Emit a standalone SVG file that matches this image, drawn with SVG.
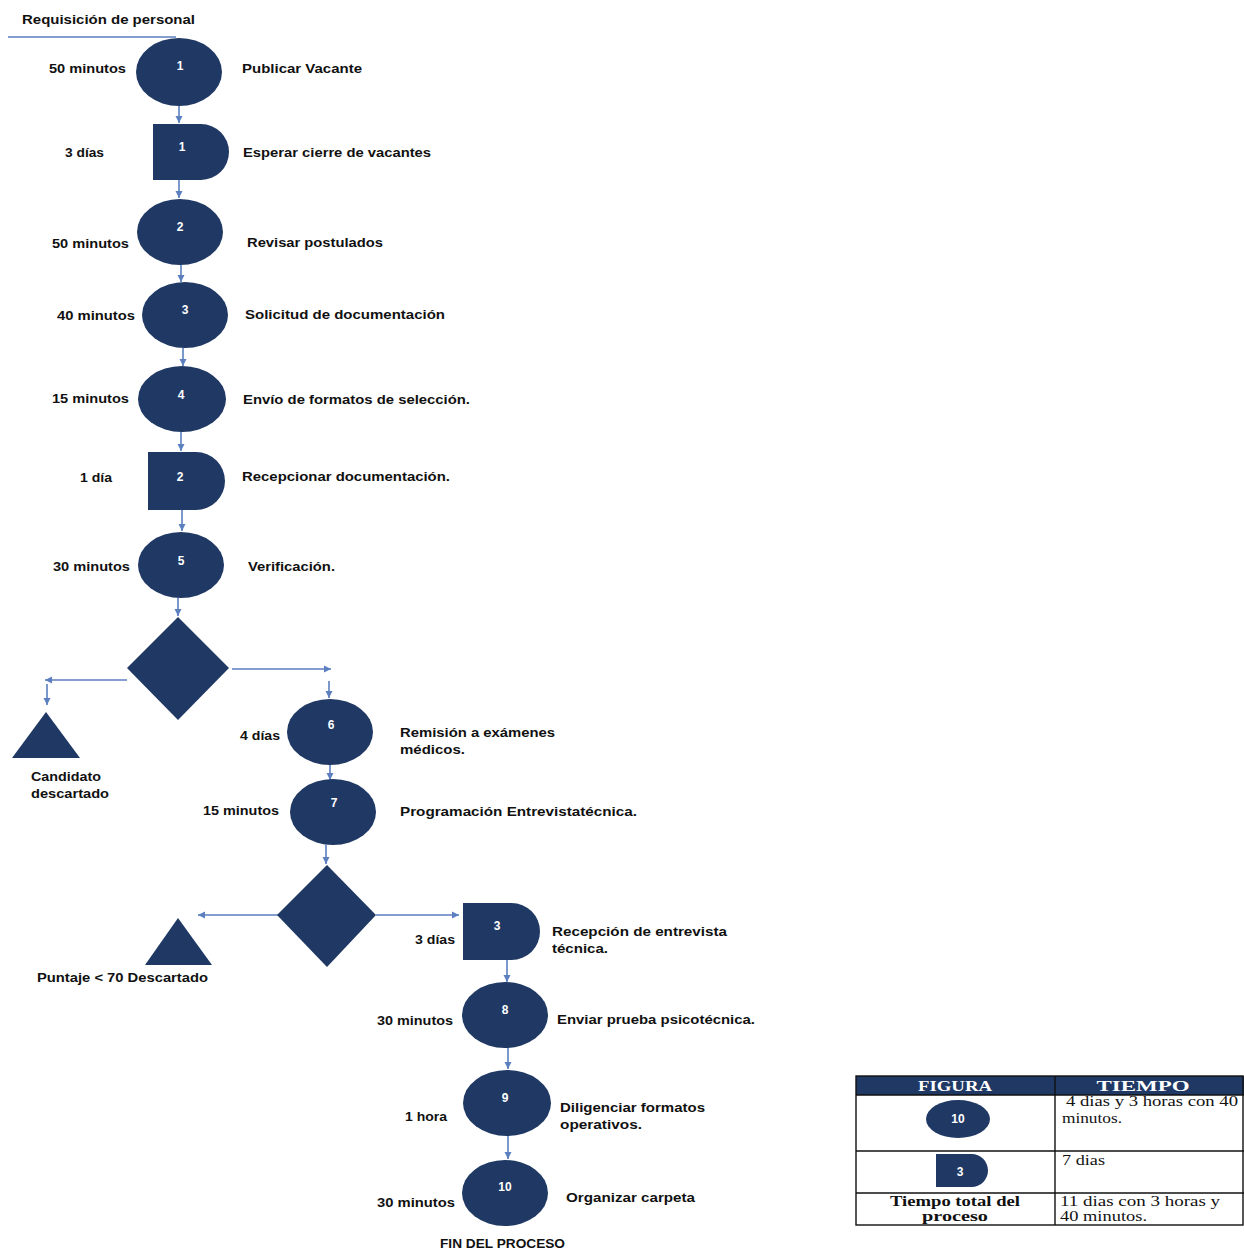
<svg xmlns="http://www.w3.org/2000/svg" width="1244" height="1251" viewBox="0 0 1244 1251">
<style>
.n{fill:#1f3864}
.num{font-family:"Liberation Sans",Arial,sans-serif;font-weight:bold;font-size:12px;fill:#fff;text-anchor:middle}
.l{font-family:"Liberation Sans",Arial,sans-serif;font-weight:bold;font-size:12.5px;fill:#111}
.c{stroke:#5b7fbf;stroke-width:1.6;fill:none;marker-end:url(#ah)}
.t{font-family:"Liberation Serif","Times New Roman",serif;font-size:14px;fill:#111}
.th{font-family:"Liberation Serif","Times New Roman",serif;font-size:14px;font-weight:bold;fill:#fff;text-anchor:middle}
.tb{stroke:#111;stroke-width:1.4;fill:none}
</style>
<defs>
<marker id="ah" markerUnits="userSpaceOnUse" markerWidth="8" markerHeight="8" refX="7" refY="4" orient="auto">
<path d="M0,0.5 L7,4 L0,7.5 z" fill="#5b7fbf"/>
</marker>
</defs>
<rect width="1244" height="1251" fill="#fff"/>

<g id="start">
<text class="l" x="22" y="24" textLength="173" lengthAdjust="spacingAndGlyphs">Requisición de personal</text>
<line x1="8" y1="37" x2="176" y2="37" stroke="#5b7fbf" stroke-width="1.4"/>
</g>

<g id="connectors">
<path class="c" d="M179,106 V123"/>
<path class="c" d="M179,180 V198"/>
<path class="c" d="M181,265 V282"/>
<path class="c" d="M183,348 V366"/>
<path class="c" d="M181,432 V451"/>
<path class="c" d="M182,510 V531"/>
<path class="c" d="M178,598 V616"/>
<path class="c" d="M232,669 H331"/>
<path class="c" d="M329,681 V698"/>
<path class="c" d="M127,680 H45"/>
<path class="c" d="M47,684 V705"/>
<path class="c" d="M330,765 V780"/>
<path class="c" d="M326,845 V864"/>
<path class="c" d="M278,915 H198"/>
<path class="c" d="M376,915 H459"/>
<path class="c" d="M507,960 V982"/>
<path class="c" d="M508,1048 V1069"/>
<path class="c" d="M508,1136 V1159"/>
</g>

<g id="n1">
<ellipse class="n" cx="179" cy="72" rx="43" ry="34"/>
<text class="num" x="180" y="70">1</text>
<text class="l" x="49" y="73" textLength="77" lengthAdjust="spacingAndGlyphs">50 minutos</text>
<text class="l" x="242" y="73" textLength="120" lengthAdjust="spacingAndGlyphs">Publicar Vacante</text>
</g>

<g id="d1">
<path class="n" d="M153,124 H201 A28,28 0 0 1 201,180 H153 Z"/>
<text class="num" x="182" y="151">1</text>
<text class="l" x="65" y="157" textLength="39" lengthAdjust="spacingAndGlyphs">3 días</text>
<text class="l" x="243" y="157" textLength="188" lengthAdjust="spacingAndGlyphs">Esperar cierre de vacantes</text>
</g>

<g id="n2">
<ellipse class="n" cx="180" cy="232" rx="43" ry="33"/>
<text class="num" x="180" y="231">2</text>
<text class="l" x="52" y="248" textLength="77" lengthAdjust="spacingAndGlyphs">50 minutos</text>
<text class="l" x="247" y="247" textLength="136" lengthAdjust="spacingAndGlyphs">Revisar postulados</text>
</g>

<g id="n3">
<ellipse class="n" cx="185" cy="315" rx="43" ry="33"/>
<text class="num" x="185" y="314">3</text>
<text class="l" x="57" y="320" textLength="78" lengthAdjust="spacingAndGlyphs">40 minutos</text>
<text class="l" x="245" y="319" textLength="200" lengthAdjust="spacingAndGlyphs">Solicitud de documentación</text>
</g>

<g id="n4">
<ellipse class="n" cx="182" cy="399" rx="44" ry="33"/>
<text class="num" x="181" y="399">4</text>
<text class="l" x="52" y="403" textLength="77" lengthAdjust="spacingAndGlyphs">15 minutos</text>
<text class="l" x="243" y="404" textLength="227" lengthAdjust="spacingAndGlyphs">Envío de formatos de selección.</text>
</g>

<g id="d2">
<path class="n" d="M148,452 H196 A29,29 0 0 1 196,510 H148 Z"/>
<text class="num" x="180" y="481">2</text>
<text class="l" x="80" y="482" textLength="32" lengthAdjust="spacingAndGlyphs">1 día</text>
<text class="l" x="242" y="481" textLength="208" lengthAdjust="spacingAndGlyphs">Recepcionar documentación.</text>
</g>

<g id="n5">
<ellipse class="n" cx="181" cy="565" rx="43" ry="33"/>
<text class="num" x="181" y="565">5</text>
<text class="l" x="53" y="571" textLength="77" lengthAdjust="spacingAndGlyphs">30 minutos</text>
<text class="l" x="248" y="571" textLength="87" lengthAdjust="spacingAndGlyphs">Verificación.</text>
</g>

<g id="dec1">
<path class="n" d="M178,617 L229,668 L178,720 L127,668 Z"/>
</g>

<g id="end1">
<path class="n" d="M46,712 L80,758 L12,758 Z"/>
<text class="l" x="31" y="781" textLength="70" lengthAdjust="spacingAndGlyphs">Candidato</text>
<text class="l" x="31" y="798" textLength="78" lengthAdjust="spacingAndGlyphs">descartado</text>
</g>

<g id="n6">
<ellipse class="n" cx="330" cy="732" rx="43" ry="33"/>
<text class="num" x="331" y="729">6</text>
<text class="l" x="240" y="740" textLength="40" lengthAdjust="spacingAndGlyphs">4 días</text>
<text class="l" x="400" y="737" textLength="155" lengthAdjust="spacingAndGlyphs">Remisión a exámenes</text>
<text class="l" x="400" y="754" textLength="65" lengthAdjust="spacingAndGlyphs">médicos.</text>
</g>

<g id="n7">
<ellipse class="n" cx="333" cy="812" rx="43" ry="33"/>
<text class="num" x="334" y="807">7</text>
<text class="l" x="203" y="815" textLength="76" lengthAdjust="spacingAndGlyphs">15 minutos</text>
<text class="l" x="400" y="816" textLength="237" lengthAdjust="spacingAndGlyphs">Programación Entrevistatécnica.</text>
</g>

<g id="dec2">
<path class="n" d="M327,865 L376,915 L327,967 L277,915 Z"/>
</g>

<g id="end2">
<path class="n" d="M178,918 L212,965 L145,965 Z"/>
<text class="l" x="37" y="982" textLength="171" lengthAdjust="spacingAndGlyphs">Puntaje &lt; 70 Descartado</text>
</g>

<g id="d3">
<path class="n" d="M463,903 H511.5 A28.5,28.5 0 0 1 511.5,960 H463 Z"/>
<text class="num" x="497" y="930">3</text>
<text class="l" x="415" y="944" textLength="40" lengthAdjust="spacingAndGlyphs">3 días</text>
<text class="l" x="552" y="936" textLength="175" lengthAdjust="spacingAndGlyphs">Recepción de entrevista</text>
<text class="l" x="552" y="953" textLength="56" lengthAdjust="spacingAndGlyphs">técnica.</text>
</g>

<g id="n8">
<ellipse class="n" cx="505" cy="1015" rx="43" ry="33"/>
<text class="num" x="505" y="1014">8</text>
<text class="l" x="377" y="1025" textLength="76" lengthAdjust="spacingAndGlyphs">30 minutos</text>
<text class="l" x="557" y="1024" textLength="198" lengthAdjust="spacingAndGlyphs">Enviar prueba psicotécnica.</text>
</g>

<g id="n9">
<ellipse class="n" cx="507" cy="1103" rx="44" ry="33"/>
<text class="num" x="505" y="1102">9</text>
<text class="l" x="405" y="1121" textLength="42" lengthAdjust="spacingAndGlyphs">1 hora</text>
<text class="l" x="560" y="1112" textLength="145" lengthAdjust="spacingAndGlyphs">Diligenciar formatos</text>
<text class="l" x="560" y="1129" textLength="82" lengthAdjust="spacingAndGlyphs">operativos.</text>
</g>

<g id="n10">
<ellipse class="n" cx="505" cy="1193" rx="43" ry="33"/>
<text class="num" x="505" y="1191">10</text>
<text class="l" x="377" y="1207" textLength="78" lengthAdjust="spacingAndGlyphs">30 minutos</text>
<text class="l" x="566" y="1202" textLength="129" lengthAdjust="spacingAndGlyphs">Organizar carpeta</text>
<text class="l" x="440" y="1248" font-size="11.5" textLength="125" lengthAdjust="spacingAndGlyphs">FIN DEL PROCESO</text>
</g>

<g id="table">
<rect x="856" y="1076" width="388" height="19" fill="#1f3864"/>
<rect class="tb" x="856" y="1076" width="387" height="149"/>
<line class="tb" x1="856" y1="1095" x2="1244" y2="1095"/>
<line class="tb" x1="856" y1="1151" x2="1244" y2="1151"/>
<line class="tb" x1="856" y1="1193" x2="1244" y2="1193"/>
<line class="tb" x1="1055" y1="1076" x2="1055" y2="1225"/>
<text class="th" x="955" y="1091" textLength="74" lengthAdjust="spacingAndGlyphs">FIGURA</text>
<text class="th" x="1143" y="1091" textLength="93" lengthAdjust="spacingAndGlyphs">TIEMPO</text>
<ellipse class="n" cx="958" cy="1119" rx="32" ry="19"/>
<text class="num" x="958" y="1123">10</text>
<path class="n" d="M936,1154 H971.5 A16.5,16.5 0 0 1 971.5,1187 H936 Z"/>
<text class="num" x="960" y="1176">3</text>
<text class="t" x="1066" y="1106" textLength="172" lengthAdjust="spacingAndGlyphs">4 dias y 3 horas con 40</text>
<text class="t" x="1062" y="1123" textLength="60" lengthAdjust="spacingAndGlyphs">minutos.</text>
<text class="t" x="1062" y="1165" textLength="43" lengthAdjust="spacingAndGlyphs">7 dias</text>
<text class="t" x="955" y="1206" font-weight="bold" text-anchor="middle" textLength="130" lengthAdjust="spacingAndGlyphs">Tiempo total del</text>
<text class="t" x="955" y="1221" font-weight="bold" text-anchor="middle" textLength="66" lengthAdjust="spacingAndGlyphs">proceso</text>
<text class="t" x="1060" y="1206" textLength="160" lengthAdjust="spacingAndGlyphs">11 dias con 3 horas y</text>
<text class="t" x="1060" y="1221" textLength="87" lengthAdjust="spacingAndGlyphs">40 minutos.</text>
</g>
</svg>
